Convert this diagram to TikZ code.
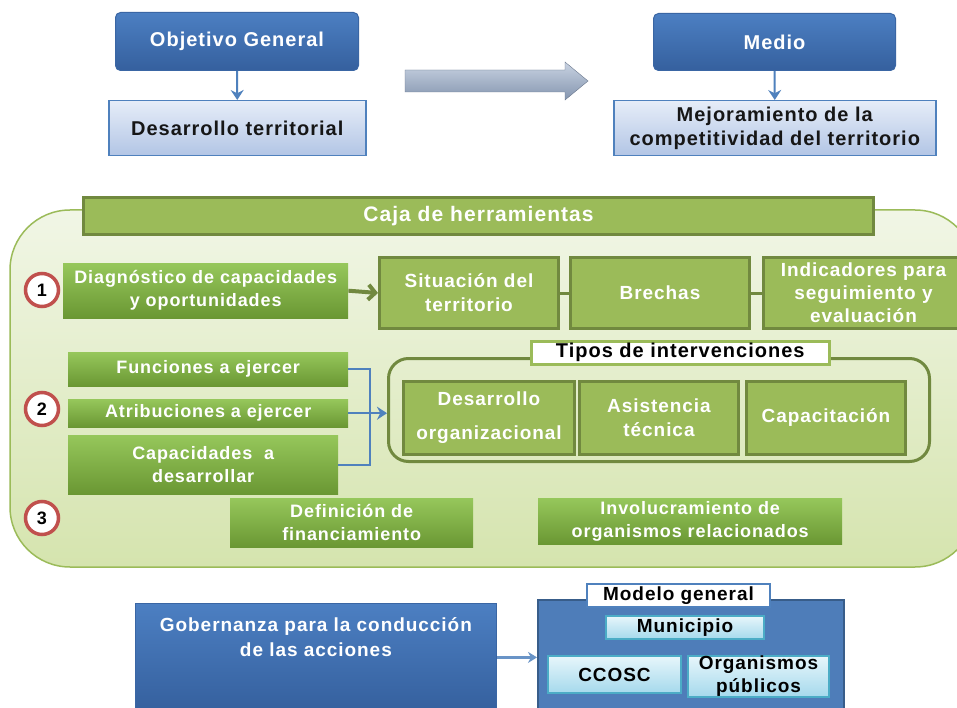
\documentclass[tikz,border=0pt]{standalone}
\usepackage{fontspec}
\setmainfont{Liberation Sans}[LetterSpace=5]
\usetikzlibrary{arrows.meta}
\definecolor{blueT}{HTML}{4C7FC2}
\definecolor{blueB}{HTML}{35609E}
\definecolor{blueD}{HTML}{3A66A4}
\definecolor{lbT}{HTML}{E6EDF8}
\definecolor{lbB}{HTML}{B2C5E5}
\definecolor{lbD}{HTML}{4F81BD}
\definecolor{txtdark}{HTML}{161616}
\definecolor{grT}{HTML}{C9D3E2}
\definecolor{grB}{HTML}{8495AF}
\definecolor{contT}{HTML}{F1F6E6}
\definecolor{contB}{HTML}{D5E4AE}
\definecolor{contD}{HTML}{9BBB59}
\definecolor{gF}{HTML}{9BBB59}
\definecolor{gD}{HTML}{71893F}
\definecolor{ggT}{HTML}{96C75B}
\definecolor{ggB}{HTML}{6A9733}
\definecolor{redc}{HTML}{C0504D}
\definecolor{blueC}{HTML}{4F81BD}
\definecolor{modF}{HTML}{4E7DB9}
\definecolor{modD}{HTML}{385D8A}
\definecolor{cyT}{HTML}{E7F6FB}
\definecolor{cyB}{HTML}{A5D9EC}
\definecolor{cyD}{HTML}{4BACC6}
\newcommand\fsz[2]{\fontsize{#1}{#2}\selectfont}
\tikzset{
  base/.style={draw, anchor=north west, inner sep=2pt, align=center},
  darkblue/.style={base, rounded corners=5pt, top color=blueT, bottom color=blueB, draw=blueD, line width=1pt, text=white, font=\bfseries\fsz{20}{24}},
  ltblue/.style={base, top color=lbT, bottom color=lbB, draw=lbD, line width=1.5pt, text=txtdark, font=\bfseries\fsz{20}{24}},
  gflat/.style={base, fill=gF, draw=gD, line width=3pt, text=white, font=\bfseries\fsz{19}{24}},
  ggrad/.style={base, draw=none, top color=ggT, bottom color=ggB, text=white, font=\bfseries\fsz{18}{23}},
  numc/.style={circle, draw=redc, line width=3.5pt, fill=white, minimum size=33pt, inner sep=0pt, font=\bfseries\fsz{18}{20}},
  cyanb/.style={base, top color=cyT, bottom color=cyB, draw=cyD, line width=2pt, text=black, font=\bfseries\fsz{19}{23}},
  bluecon/.style={draw=blueC, line width=2pt},
  tiparrow/.style={-{Stealth[length=10pt,width=13pt]}},
}
\begin{document}
\begin{tikzpicture}[x=1pt,y=-1pt]
\useasboundingbox (0,0) rectangle (957,708);
\fill[white] (0,0) rectangle (957,708);

% ---------- top ----------
\node[darkblue, minimum width=243pt, minimum height=58pt] (obj) at (115,12) {Objetivo General};
\node[ltblue, minimum width=257pt, minimum height=55pt] (dest) at (108,100) {Desarrollo territorial};
\draw[bluecon, tiparrow] (obj.south) -- (dest.north);

\shade[top color=grT, bottom color=grB, draw=grB!80!black, line width=0.4pt]
  (405,70) -- (565,70) -- (565,62) -- (588,81) -- (565,100) -- (565,92) -- (405,92) -- cycle;

\node[darkblue, minimum width=242pt, minimum height=57pt] (med) at (653,13) {Medio};
\node[ltblue, minimum width=322pt, minimum height=55pt] (mej) at (613,100) {Mejoramiento de la\\competitividad del territorio};
\draw[bluecon, tiparrow] (med.south) -- (mej.north);

% ---------- caja de herramientas ----------
\draw[top color=contT, bottom color=contB, draw=contD, line width=1.5pt, rounded corners=60pt]
  (10,210) rectangle (975,567);
\node[gflat, minimum width=790pt, minimum height=37pt, font=\bfseries\fsz{21}{24}] (caja) at (82,196) {Caja de herramientas};

% row 1
\node[numc] (n1) at (42,290) {1};
\node[ggrad, minimum width=285pt, minimum height=55pt] (diag) at (63,263) {Diagnóstico de capacidades\\y oportunidades};
\node[gflat, minimum width=179pt, minimum height=71pt] (sit) at (378,256) {Situación del\\territorio};
\node[gflat, minimum width=179pt, minimum height=71pt] (bre) at (569,256) {Brechas};
\node[gflat, minimum width=200pt, minimum height=71pt, font=\bfseries\fsz{19}{23}] (ind) at (762,256) {Indicadores para\\seguimiento y\\evaluación};
\draw[draw=gD, line width=4pt, -{Straight Barb[length=7pt,width=15pt]}] (diag.east) -- (sit.west);
\draw[draw=gD, line width=3pt] (sit.east) -- (bre.west);
\draw[draw=gD, line width=3pt] (bre.east) -- (ind.west);

% row 2
\node[numc] (n2) at (42,409) {2};
\node[ggrad, minimum width=280pt, minimum height=34pt] (fun) at (68,352) {Funciones a ejercer};
\node[ggrad, minimum width=280pt, minimum height=28pt] (atr) at (68,399) {Atribuciones a ejercer};
\node[ggrad, minimum width=270pt, minimum height=59pt] (cap) at (68,435) {Capacidades \ a\\desarrollar};

\node[base, draw=gD, line width=3pt, rounded corners=20pt, minimum width=541pt, minimum height=103pt] (tipos) at (387,357) {};
\node[base, fill=white, draw=gF, line width=2.5pt, minimum width=298pt, minimum height=23pt, inner sep=0pt, text=black, font=\bfseries\fsz{20}{22}] (tlab) at (530,340) {Tipos de intervenciones};
\node[gflat, minimum width=171pt, minimum height=73pt] (dorg) at (402,380) {Desarrollo\\[10pt]organizacional};
\node[gflat, minimum width=159pt, minimum height=73pt] (asis) at (578,380) {Asistencia\\técnica};
\node[gflat, minimum width=159pt, minimum height=73pt] (capa) at (745,380) {Capacitación};

\draw[bluecon] (fun.east) -- ++(22,0) coordinate (bx) |- (cap.east);
\draw[bluecon, tiparrow] (atr.east) -- (atr.east -| tipos.west);

% row 3
\node[numc] (n3) at (42,518) {3};
\node[ggrad, minimum width=243pt, minimum height=49pt] (defi) at (230,498) {Definición de\\financiamiento};
\node[ggrad, minimum width=304pt, minimum height=46pt] (invo) at (538,498) {Involucramiento de\\organismos relacionados};

% ---------- bottom ----------
\node[base, draw=blueD, line width=0.8pt, top color=blueT, bottom color=blueB, minimum width=361pt, minimum height=108pt, text=white, font=\bfseries\fsz{19}{25}] (gob) at (135,603) {Gobernanza para la conducción\\de las acciones\\[16pt]};
\node[base, fill=modF, draw=modD, line width=2pt, minimum width=306pt, minimum height=112pt] (mod) at (537,599) {};
\node[base, fill=white, draw=blueC, line width=2pt, minimum width=183pt, minimum height=23pt, inner sep=0pt, text=black, font=\bfseries\fsz{19}{22}] (mlab) at (586,583) {Modelo general};
\node[cyanb, minimum width=158pt, minimum height=23pt, inner sep=0pt] (mun) at (605,615) {Municipio};
\node[cyanb, minimum width=133pt, minimum height=37pt] (cco) at (547,655) {CCOSC};
\node[cyanb, minimum width=141pt, minimum height=37pt, inner sep=0pt] (org) at (687,655) {Organismos\\públicos};
\draw[draw=blueC!85!white, line width=2.2pt, -{Stealth[length=9pt,width=11pt]}] (gob.east) -- (gob.east -| mod.west);
\end{tikzpicture}
\end{document}
